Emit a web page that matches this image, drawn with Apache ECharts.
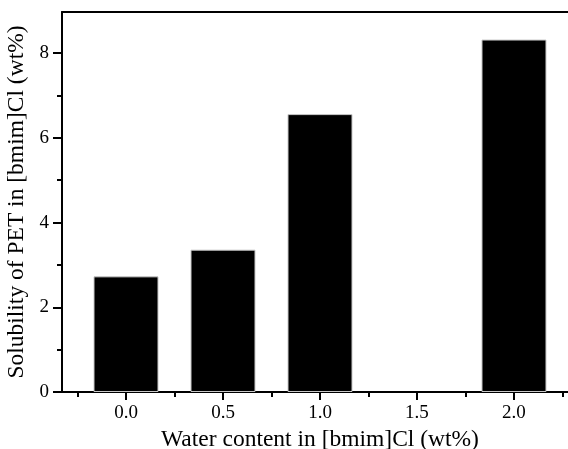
<!DOCTYPE html>
<html>
<head>
<meta charset="utf-8">
<script src="https://cdn.jsdelivr.net/npm/echarts@6/dist/echarts.min.js"></script>
<style>
  html, body { margin: 0; padding: 0; background: #fff; }
  #chart { width: 568px; height: 449px; }
</style>
</head>
<body>
<div id="chart"></div>
<script>
// Water content of the ionic liquid (wt%) and PET solubility (wt%)
const waterContent = [0.0, 0.5, 1.0, 2.0];
const solubility = [2.73, 3.36, 6.56, 8.32];

// Tick positions
const xMajorTicks = [0.0, 0.5, 1.0, 1.5, 2.0];
const xMinorTicks = [-0.25, 0.25, 0.75, 1.25, 1.75, 2.25];
const yMajorTicks = [0, 2, 4, 6, 8];
const yMinorTicks = [1, 3, 5, 7];

const FONT = 'Liberation Serif';
const X_MIN = -0.33, X_MAX = 2.33;
const Y_MIN = 0, Y_MAX = 8.97;

const chart = echarts.init(document.getElementById('chart'), null, { renderer: 'canvas' });

const axisLine = { show: true, onZero: false, lineStyle: { color: '#000', width: 2 } };

chart.setOption({
  animation: false,
  backgroundColor: '#fff',
  // the frame runs a little past the right edge of the canvas
  grid: { left: 62, top: 12, width: 516, height: 380,
          containLabel: false, outerBoundsMode: 'none' },
  xAxis: [
    {
      type: 'value', min: X_MIN, max: X_MAX, position: 'bottom',
      axisLine: axisLine,
      axisTick: { show: true, inside: false, length: 8, customValues: xMajorTicks,
                  lineStyle: { color: '#000', width: 2 } },
      axisLabel: { show: true, customValues: xMajorTicks, margin: 12,
                   formatter: v => v.toFixed(1),
                   color: '#000', fontFamily: FONT, fontSize: 19 },
      splitLine: { show: false },
      name: 'Water content in [bmim]Cl (wt%)',
      nameLocation: 'middle', nameGap: 34,
      nameTextStyle: { color: '#000', fontFamily: FONT, fontSize: 23.5 }
    },
    {
      type: 'value', min: X_MIN, max: X_MAX, position: 'bottom',
      axisLine: { show: false, onZero: false },
      axisTick: { show: true, inside: false, length: 5, customValues: xMinorTicks,
                  lineStyle: { color: '#000', width: 2 } },
      axisLabel: { show: false },
      splitLine: { show: false }
    },
    {
      type: 'value', min: X_MIN, max: X_MAX, position: 'top',
      axisLine: axisLine,
      axisTick: { show: false },
      axisLabel: { show: false },
      splitLine: { show: false }
    }
  ],
  yAxis: [
    {
      type: 'value', min: Y_MIN, max: Y_MAX, position: 'left',
      axisLine: axisLine,
      axisTick: { show: true, inside: false, length: 9, customValues: yMajorTicks,
                  lineStyle: { color: '#000', width: 2 } },
      axisLabel: { show: true, customValues: yMajorTicks, margin: 13,
                   color: '#000', fontFamily: FONT, fontSize: 19 },
      splitLine: { show: false },
      name: 'Solubility of PET in [bmim]Cl (wt%)',
      nameLocation: 'middle', nameGap: 30,
      nameTextStyle: { color: '#000', fontFamily: FONT, fontSize: 23.5 }
    },
    {
      type: 'value', min: Y_MIN, max: Y_MAX, position: 'left',
      axisLine: { show: false, onZero: false },
      axisTick: { show: true, inside: false, length: 5, customValues: yMinorTicks,
                  lineStyle: { color: '#000', width: 2 } },
      axisLabel: { show: false },
      splitLine: { show: false }
    }
  ],
  series: [
    {
      type: 'bar',
      xAxisIndex: 0, yAxisIndex: 0,
      barWidth: 65,
      data: waterContent.map((w, i) => [w, solubility[i]]),
      itemStyle: { color: '#000', borderColor: '#c8c8c8', borderWidth: 1 }
    }
  ]
});
</script>
</body>
</html>
